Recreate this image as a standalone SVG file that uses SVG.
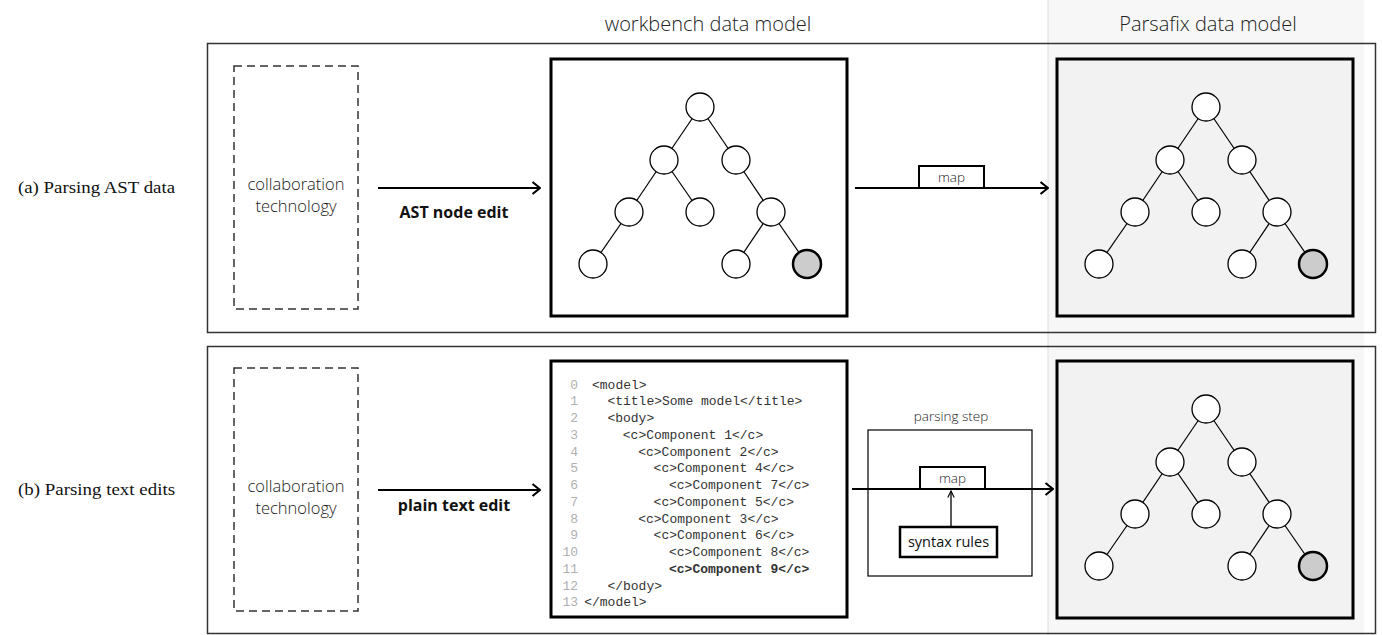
<svg xmlns="http://www.w3.org/2000/svg" width="1382" height="635" viewBox="0 0 1382 635">
<style>
.hdr{font-family:"Open Sans",sans-serif;font-weight:300;font-size:20px;fill:#222;text-anchor:middle}
.lbl{font-family:"Liberation Serif",serif;font-size:17px;fill:#111}
.ct{font-family:"Open Sans",sans-serif;font-weight:300;font-size:16.5px;fill:#1a1a1a;text-anchor:middle}
.edit{font-family:"Open Sans",sans-serif;font-weight:700;font-size:16px;fill:#111;text-anchor:middle}
.sm{font-family:"Open Sans",sans-serif;font-weight:300;font-size:13.5px;fill:#222;text-anchor:middle}
.sr{font-family:"Open Sans",sans-serif;font-size:14.5px;fill:#111;text-anchor:middle}
.code{font-family:"Liberation Mono",monospace;font-size:13px;fill:#333}
.ln{font-family:"Liberation Mono",monospace;font-size:13px;fill:#b0b0b0;text-anchor:end}
.panel{fill:none;stroke:#333;stroke-width:1.5}
.box{fill:#fff;stroke:#000;stroke-width:3}
.pbox{fill:#f2f2f2;stroke:#000;stroke-width:3}
.dash{fill:none;stroke:#333;stroke-width:1.5;stroke-dasharray:8 5}
.edge{stroke:#000;stroke-width:1.2;fill:none}
.n{fill:#fff;stroke:#000;stroke-width:1.3}
.hl{fill:#cccccc;stroke:#000;stroke-width:2.5}
.arr{stroke:#000;stroke-width:2.2;fill:none}
.thin{stroke:#000;stroke-width:1.3;fill:none}
</style>
<defs>
<marker id="ah" viewBox="0 0 10 14" refX="9" refY="7" markerWidth="10" markerHeight="14" markerUnits="userSpaceOnUse" orient="auto">
<path d="M1.5,1 L9,7 L1.5,13" fill="none" stroke="#000" stroke-width="2.2"/>
</marker>
<marker id="ahs" viewBox="0 0 10 10" refX="9" refY="5" markerWidth="8" markerHeight="10" markerUnits="userSpaceOnUse" orient="auto">
<path d="M1,1 L9,5 L1,9" fill="none" stroke="#000" stroke-width="1.4"/>
</marker>
<g id="tree">
<line class="edge" x1="700" y1="107" x2="664" y2="160"/>
<line class="edge" x1="700" y1="107" x2="736" y2="160"/>
<line class="edge" x1="664" y1="160" x2="629" y2="212"/>
<line class="edge" x1="664" y1="160" x2="700" y2="212"/>
<line class="edge" x1="736" y1="160" x2="771" y2="212"/>
<line class="edge" x1="629" y1="212" x2="593" y2="264"/>
<line class="edge" x1="771" y1="212" x2="736" y2="264"/>
<line class="edge" x1="771" y1="212" x2="807" y2="264"/>
<circle class="n" cx="700" cy="107" r="14"/>
<circle class="n" cx="664" cy="160" r="14"/>
<circle class="n" cx="736" cy="160" r="14"/>
<circle class="n" cx="629" cy="212" r="14"/>
<circle class="n" cx="700" cy="212" r="14"/>
<circle class="n" cx="771" cy="212" r="14"/>
<circle class="n" cx="593" cy="264" r="14"/>
<circle class="n" cx="736" cy="264" r="14"/>
<circle class="hl" cx="807" cy="264" r="14"/>
</g>
</defs>

<rect width="1382" height="635" fill="#fff"/>
<g id="parsafix-column">
<rect x="1048" y="0" width="316" height="635" fill="#f7f7f7"/>
<line x1="1048" y1="0" x2="1048" y2="635" stroke="#dddddd" stroke-width="1"/>
</g>

<g id="headers">
<text class="hdr" x="708" y="31">workbench data model</text>
<text class="hdr" x="1208" y="31">Parsafix data model</text>
</g>

<g id="panel-a">
<rect class="panel" x="207.5" y="43.5" width="1168" height="289"/>
<text class="lbl" x="18" y="193" textLength="157" lengthAdjust="spacingAndGlyphs">(a) Parsing AST data</text>
</g>
<g id="panel-b">
<rect class="panel" x="207.5" y="346.5" width="1168" height="287"/>
<text class="lbl" x="18" y="495" textLength="157" lengthAdjust="spacingAndGlyphs">(b) Parsing text edits</text>
</g>

<g id="collab-a">
<rect class="dash" x="234" y="66" width="124" height="243"/>
<text class="ct" x="296" y="190">collaboration</text>
<text class="ct" x="296" y="212">technology</text>
</g>
<g id="collab-b">
<rect class="dash" x="234" y="368" width="124" height="243"/>
<text class="ct" x="296" y="492">collaboration</text>
<text class="ct" x="296" y="514">technology</text>
</g>

<g id="workbench-a">
<rect class="box" x="551" y="59" width="296" height="257"/>
<use href="#tree"/>
</g>

<g id="parsafix-a">
<rect class="pbox" x="1057" y="59" width="296" height="257"/>
<use href="#tree" transform="translate(506,0)"/>
</g>

<g id="parsafix-b">
<rect class="pbox" x="1057" y="361" width="296" height="257"/>
<use href="#tree" transform="translate(506,302)"/>
</g>

<g id="workbench-b">
<rect class="box" x="551" y="361" width="296" height="256"/>
<text class="ln" x="578" y="388.5">0</text>
<text class="ln" x="578" y="405.25">1</text>
<text class="ln" x="578" y="422">2</text>
<text class="ln" x="578" y="438.75">3</text>
<text class="ln" x="578" y="455.5">4</text>
<text class="ln" x="578" y="472.25">5</text>
<text class="ln" x="578" y="489">6</text>
<text class="ln" x="578" y="505.75">7</text>
<text class="ln" x="578" y="522.5">8</text>
<text class="ln" x="578" y="539.25">9</text>
<text class="ln" x="578" y="556">10</text>
<text class="ln" x="578" y="572.75">11</text>
<text class="ln" x="578" y="589.5">12</text>
<text class="ln" x="578" y="606.25">13</text>
<text class="code" x="592" y="388.5">&lt;model&gt;</text>
<text class="code" x="607.4" y="405.25">&lt;title&gt;Some model&lt;/title&gt;</text>
<text class="code" x="607.4" y="422">&lt;body&gt;</text>
<text class="code" x="622.8" y="438.75">&lt;c&gt;Component 1&lt;/c&gt;</text>
<text class="code" x="638.2" y="455.5">&lt;c&gt;Component 2&lt;/c&gt;</text>
<text class="code" x="653.6" y="472.25">&lt;c&gt;Component 4&lt;/c&gt;</text>
<text class="code" x="669" y="489">&lt;c&gt;Component 7&lt;/c&gt;</text>
<text class="code" x="653.6" y="505.75">&lt;c&gt;Component 5&lt;/c&gt;</text>
<text class="code" x="638.2" y="522.5">&lt;c&gt;Component 3&lt;/c&gt;</text>
<text class="code" x="653.6" y="539.25">&lt;c&gt;Component 6&lt;/c&gt;</text>
<text class="code" x="669" y="556">&lt;c&gt;Component 8&lt;/c&gt;</text>
<text class="code" x="669" y="572.75" font-weight="700" fill="#000">&lt;c&gt;Component 9&lt;/c&gt;</text>
<text class="code" x="607.4" y="589.5">&lt;/body&gt;</text>
<text class="code" x="584.2" y="606.25">&lt;/model&gt;</text>
</g>

<g id="parsing-step">
<rect x="868" y="430" width="164" height="146" fill="#fff" stroke="#000" stroke-width="1.2"/>
<text class="sm" x="951" y="421">parsing step</text>
</g>

<g id="map-a">
<rect x="919" y="166" width="65" height="22" fill="#fff" stroke="#000" stroke-width="2"/>
<text class="sm" x="951.5" y="182">map</text>
</g>

<g id="connectors">
<line class="arr" x1="378" y1="188" x2="540" y2="188" marker-end="url(#ah)"/>
<line class="arr" x1="855" y1="188" x2="1048" y2="188" marker-end="url(#ah)"/>
<line class="arr" x1="378" y1="490" x2="540" y2="490" marker-end="url(#ah)"/>
<line class="arr" x1="852" y1="489" x2="1053" y2="489" marker-end="url(#ah)"/>
<line class="thin" x1="951" y1="526" x2="951" y2="491" marker-end="url(#ahs)"/>
</g>

<g id="map-b">
<rect x="920" y="467" width="65" height="22" fill="#fff" stroke="#000" stroke-width="2"/>
<text class="sm" x="952.5" y="483">map</text>
</g>

<g id="syntax-rules">
<rect x="900" y="527" width="97" height="30" fill="#fff" stroke="#000" stroke-width="2.5"/>
<text class="sr" x="948.5" y="547">syntax rules</text>
</g>

<g id="edge-labels">
<text class="edit" x="454" y="218">AST node edit</text>
<text class="edit" x="454" y="511">plain text edit</text>
</g>
</svg>
